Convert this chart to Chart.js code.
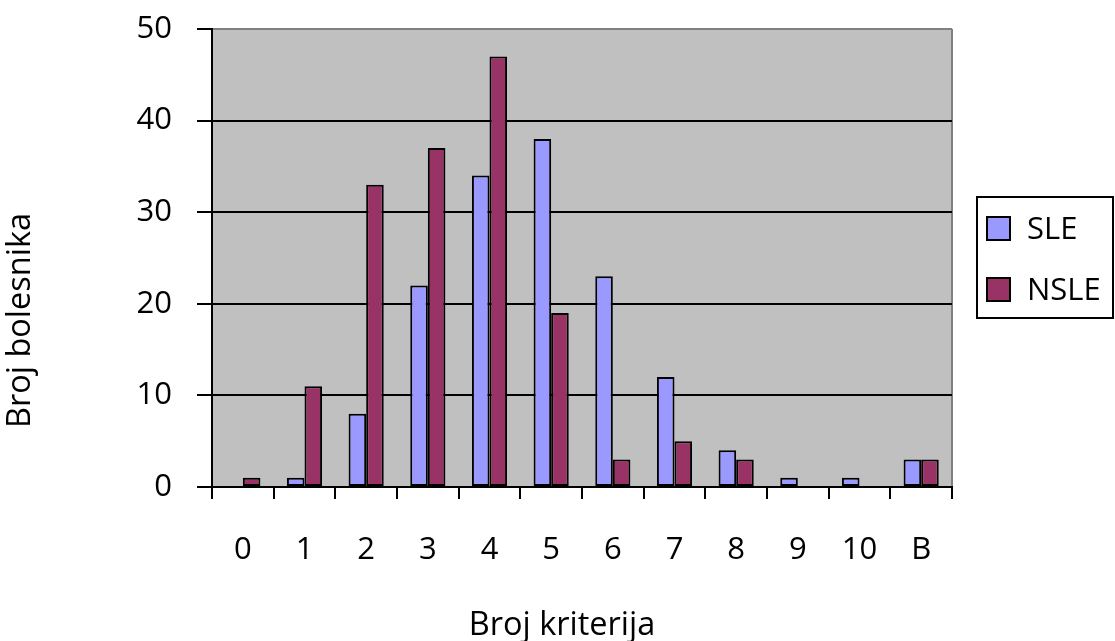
<!DOCTYPE html>
<html>
<head>
<meta charset="utf-8">
<script src="https://cdn.jsdelivr.net/npm/chart.js@4.4.1/dist/chart.umd.min.js"></script>
<style>
  html, body { margin: 0; padding: 0; background: #ffffff; }
  canvas { display: block; }
</style>
</head>
<body>
<canvas id="c" width="1115" height="641"></canvas>
<script>
const categories = ['0', '1', '2', '3', '4', '5', '6', '7', '8', '9', '10', 'B'];
const sleValues  = [0, 1, 8, 22, 34, 38, 23, 12, 4, 1, 1, 3];
const nsleValues = [1, 11, 33, 37, 47, 19, 3, 5, 3, 0, 0, 3];
const seriesNames = ['SLE', 'NSLE'];
const yTitle = 'Broj bolesnika';
const xTitle = 'Broj kriterija';

const FONT = "'Open Sans', 'DejaVu Sans', sans-serif";

const plotBackground = {
  id: 'plotBackground',
  beforeDraw(chart) {
    const {ctx, chartArea: a} = chart;
    ctx.save();
    ctx.fillStyle = '#C0C0C0';
    ctx.fillRect(a.left, a.top, a.right - a.left, a.bottom - a.top);
    ctx.strokeStyle = '#808080';
    ctx.lineWidth = 2;
    ctx.beginPath();
    ctx.moveTo(a.right, a.top);
    ctx.lineTo(a.right, a.bottom);
    ctx.stroke();
    ctx.restore();
  }
};

const xAxisTitle = {
  id: 'xAxisTitle',
  afterDraw(chart) {
    const {ctx} = chart;
    ctx.save();
    ctx.fillStyle = '#000';
    ctx.font = '32.5px ' + FONT;
    ctx.textAlign = 'center';
    ctx.textBaseline = 'middle';
    ctx.fillText(xTitle, 562, 626);
    ctx.restore();
  }
};

const boxLegend = {
  id: 'boxLegend',
  afterDraw(chart) {
    const {ctx} = chart;
    ctx.save();
    ctx.strokeStyle = '#000';
    ctx.lineWidth = 2;
    ctx.strokeRect(977, 197, 136, 121);
    const rows = [228, 289];
    chart.data.datasets.forEach((ds, i) => {
      const cy = rows[i];
      ctx.fillStyle = ds.backgroundColor;
      ctx.fillRect(987, cy - 11, 23, 23);
      ctx.strokeStyle = '#000';
      ctx.lineWidth = 2;
      ctx.strokeRect(987, cy - 11, 23, 23);
      ctx.fillStyle = '#000';
      ctx.font = '31px ' + FONT;
      ctx.textAlign = 'left';
      ctx.textBaseline = 'middle';
      ctx.fillText(ds.label, 1027, cy + 2);
    });
    ctx.restore();
  }
};

new Chart(document.getElementById('c'), {
  type: 'bar',
  data: {
    labels: categories,
    datasets: [
      { label: seriesNames[0], data: sleValues, backgroundColor: '#9999FF', borderColor: '#000000', borderWidth: 2, borderSkipped: false },
      { label: seriesNames[1], data: nsleValues, backgroundColor: '#993366', borderColor: '#000000', borderWidth: 2, borderSkipped: false }
    ]
  },
  options: {
    responsive: false,
    animation: false,
    devicePixelRatio: 1,
    layout: { padding: { top: 0, right: 163, bottom: 0, left: 0 } },
    datasets: { bar: { categoryPercentage: 0.57, barPercentage: 1.0 } },
    plugins: {
      legend: { display: false },
      tooltip: { enabled: false },
      title: {
        display: true,
        position: 'left',
        text: yTitle,
        color: '#000',
        font: { family: FONT, size: 32.5, weight: 'normal', lineHeight: 1.2 },
        padding: { top: 1.5, bottom: 0 }
      }
    },
    scales: {
      x: {
        offset: true,
        afterFit(scale) { scale.height = 154; },
        grid: { display: true, drawOnChartArea: false, drawTicks: true, tickLength: 12, color: '#000', lineWidth: 2, offset: true },
        border: { display: true, color: '#000', width: 2 },
        ticks: { color: '#000', font: { family: FONT, size: 31 }, padding: 33, maxRotation: 0, autoSkip: false },
        title: { display: false, text: xTitle }
      },
      y: {
        min: 0,
        max: 50,
        afterFit(scale) { scale.width = 212 - 40.5; scale.paddingTop = 29; scale.paddingBottom = 0; },
        ticks: { stepSize: 10, color: '#000', font: { family: FONT, size: 31 }, padding: 25 },
        grid: {
          color: (c) => (c.tick && c.tick.value === 50 ? '#808080' : '#000'),
          tickColor: '#000',
          lineWidth: 2,
          tickLength: 15,
          drawTicks: true
        },
        border: { display: true, color: '#000', width: 2 }
      }
    }
  },
  plugins: [plotBackground, xAxisTitle, boxLegend]
});
</script>
</body>
</html>
